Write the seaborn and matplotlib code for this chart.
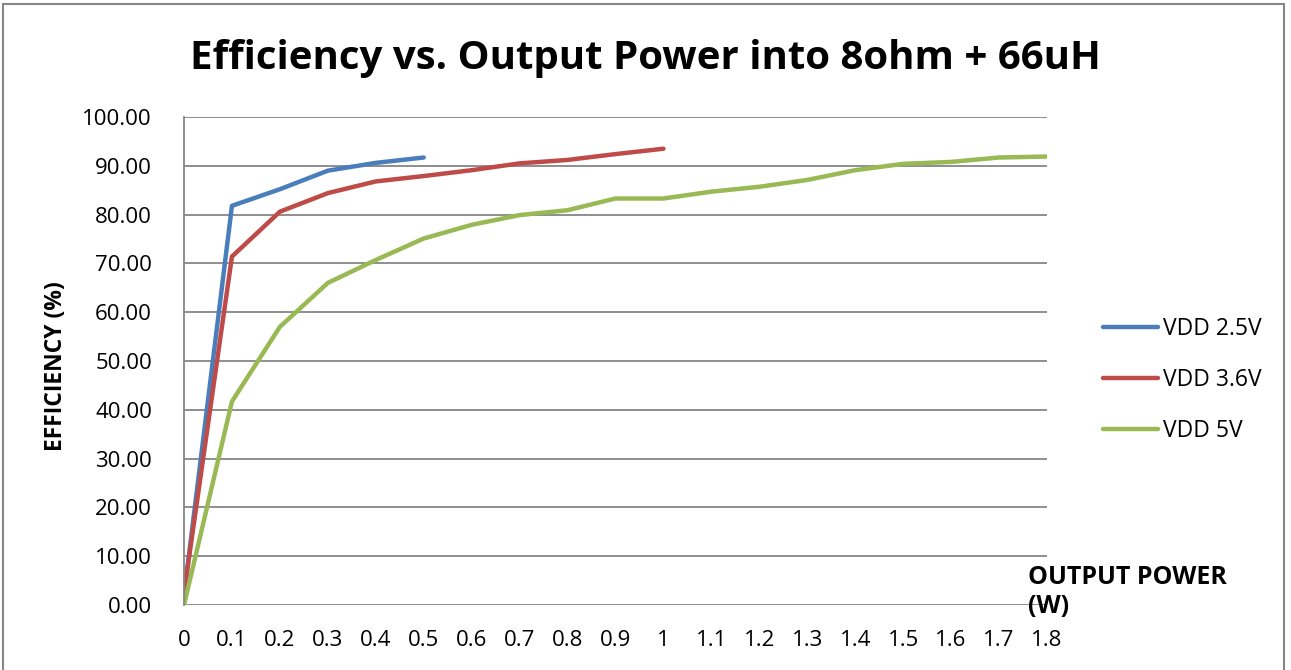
import matplotlib
matplotlib.use("Agg")
import matplotlib.pyplot as plt
import matplotlib.patches as patches
import pandas as pd
import seaborn as sns

# output power (W) for each supply voltage
power_25 = [0, 0.1, 0.2, 0.3, 0.4, 0.5]
power_36 = [0, 0.1, 0.2, 0.3, 0.4, 0.5, 0.6, 0.7, 0.8, 0.9, 1.0]
power_5 = [0, 0.1, 0.2, 0.3, 0.4, 0.5, 0.6, 0.7, 0.8, 0.9, 1.0,
           1.1, 1.2, 1.3, 1.4, 1.5, 1.6, 1.7, 1.8]

# efficiency (%)
eff_25 = [2.0, 81.8, 85.2, 89.0, 90.6, 91.7]
eff_36 = [2.5, 71.4, 80.6, 84.4, 86.8, 87.9, 89.1, 90.5, 91.2, 92.4, 93.5]
eff_5 = [0.0, 41.7, 57.0, 66.0, 70.7, 75.1, 77.9, 79.9, 80.9, 83.3, 83.3,
         84.7, 85.7, 87.1, 89.1, 90.4, 90.8, 91.7, 91.9]

series = ["VDD 2.5V", "VDD 3.6V", "VDD 5V"]
colors = ["#4A7EBB", "#BE4B48", "#98B954"]
x_ticks = [i / 10 for i in range(19)]
y_ticks = list(range(0, 101, 10))

df = pd.concat([
    pd.DataFrame({"power": power_25, "eff": eff_25, "supply": series[0]}),
    pd.DataFrame({"power": power_36, "eff": eff_36, "supply": series[1]}),
    pd.DataFrame({"power": power_5, "eff": eff_5, "supply": series[2]}),
])

sns.set_theme(style="white")
plt.rcParams["font.family"] = ["Open Sans", "DejaVu Sans"]
plt.rcParams["text.color"] = "black"
plt.rcParams["xtick.color"] = "black"
plt.rcParams["ytick.color"] = "black"

fig = plt.figure(figsize=(12.91, 6.70), dpi=100)
ax = fig.add_axes([184 / 1291, 1 - 605 / 670, (1047 - 184) / 1291, (605 - 117) / 670])

sns.lineplot(data=df, x="power", y="eff", hue="supply", palette=colors,
             linewidth=3.2, ax=ax, sort=False, estimator=None,
             solid_capstyle="round")

ax.set_xlim(0, 1.8)
ax.set_ylim(0, 100)
ax.set_xticks(x_ticks)
ax.set_xticklabels([f"{v:g}" for v in x_ticks], fontsize=16)
ax.set_yticks(y_ticks)
ax.set_yticklabels([f"{v:.2f}" for v in y_ticks], fontsize=16)
ax.tick_params(axis="y", length=0, pad=23)
ax.tick_params(axis="x", length=0, pad=18)
for y in y_ticks:
    ax.axhline(y, color="#868686", lw=1.3, zorder=0)
for side in ["top", "right", "bottom"]:
    ax.spines[side].set_visible(False)
ax.spines["left"].set_color("#868686")
ax.spines["left"].set_linewidth(1.3)
ax.set_xlabel("")
ax.set_ylabel("")

leg = ax.legend(loc="center left", bbox_to_anchor=(1103 / 1291, 1 - 380 / 670),
                bbox_transform=fig.transFigure, frameon=False,
                fontsize=16.5, handlelength=2.4, labelspacing=1.16,
                handletextpad=0.2, borderpad=0, borderaxespad=0)
for line in leg.get_lines():
    line.set_linewidth(3.2)

fig.text(0.5, 1 - 58 / 670, "Efficiency vs. Output Power into 8ohm + 66uH",
         ha="center", va="center", fontsize=29, fontweight="bold")
fig.text(56 / 1291, 1 - 366 / 670, "EFFICIENCY (%)", rotation=90,
         ha="center", va="center", fontsize=16.5, fontweight="bold")
fig.text(1028 / 1291, 1 - 592 / 670, "OUTPUT POWER\n(W)", ha="left",
         va="center", fontsize=18, fontweight="bold", linespacing=1.2)

fig.patches.append(patches.Rectangle((3 / 1291, -0.05), 1281 / 1291, 1.05 - 4 / 670,
                                     transform=fig.transFigure, fill=False,
                                     edgecolor="#868686", lw=1.5))

fig.savefig("out.png", dpi=100)
